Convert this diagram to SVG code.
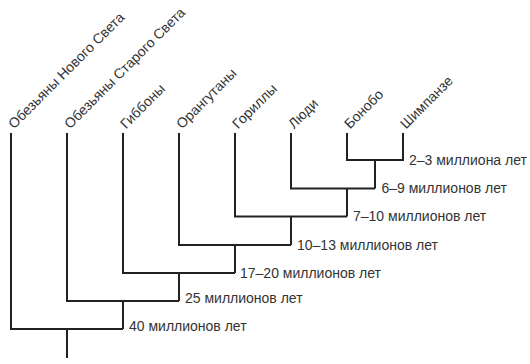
<svg xmlns="http://www.w3.org/2000/svg" width="530" height="364" viewBox="0 0 530 364">
<style>
.c{fill:none;stroke:#222;stroke-width:2;stroke-linejoin:miter}
text{font-family:"Liberation Sans",Arial,sans-serif;font-size:14px;fill:#333}
</style>
<rect width="530" height="364" fill="#fff"/>
<g id="connectors">
<path class="c" d="M347 133V160H403V133"/>
<path class="c" d="M375 160V188.5"/>
<path class="c" d="M291 133V188.5H375"/>
<path class="c" d="M347 188.5V216.5"/>
<path class="c" d="M235 133V216.5H347"/>
<path class="c" d="M291 216.5V245"/>
<path class="c" d="M179 133V245H291"/>
<path class="c" d="M235 245V273"/>
<path class="c" d="M123 133V273H235"/>
<path class="c" d="M179 273V301"/>
<path class="c" d="M67 133V301H179"/>
<path class="c" d="M123 301V329"/>
<path class="c" d="M11 133V329H123"/>
<path class="c" d="M67 329V358"/>
</g>
<g id="leaf-nw"><text transform="translate(14,129.5) rotate(-45)">Обезьяны Нового Света</text></g>
<g id="leaf-ow"><text transform="translate(70,129.5) rotate(-45)">Обезьяны Старого Света</text></g>
<g id="leaf-gibbons"><text transform="translate(126,129.5) rotate(-45)">Гиббоны</text></g>
<g id="leaf-orangutans"><text transform="translate(182,129.5) rotate(-45)">Орангутаны</text></g>
<g id="leaf-gorillas"><text transform="translate(238,129.5) rotate(-45)">Гориллы</text></g>
<g id="leaf-humans"><text transform="translate(294,129.5) rotate(-45)">Люди</text></g>
<g id="leaf-bonobo"><text transform="translate(350,129.5) rotate(-45)">Бонобо</text></g>
<g id="leaf-chimp"><text transform="translate(406,129.5) rotate(-45)">Шимпанзе</text></g>
<g id="node-2-3"><text x="409" y="165">2–3 миллиона лет</text></g>
<g id="node-6-9"><text x="381.5" y="193">6–9 миллионов лет</text></g>
<g id="node-7-10"><text x="353" y="221">7–10 миллионов лет</text></g>
<g id="node-10-13"><text x="297" y="250">10–13 миллионов лет</text></g>
<g id="node-17-20"><text x="240" y="278">17–20 миллионов лет</text></g>
<g id="node-25"><text x="185" y="303">25 миллионов лет</text></g>
<g id="node-40"><text x="129" y="331">40 миллионов лет</text></g>
</svg>
